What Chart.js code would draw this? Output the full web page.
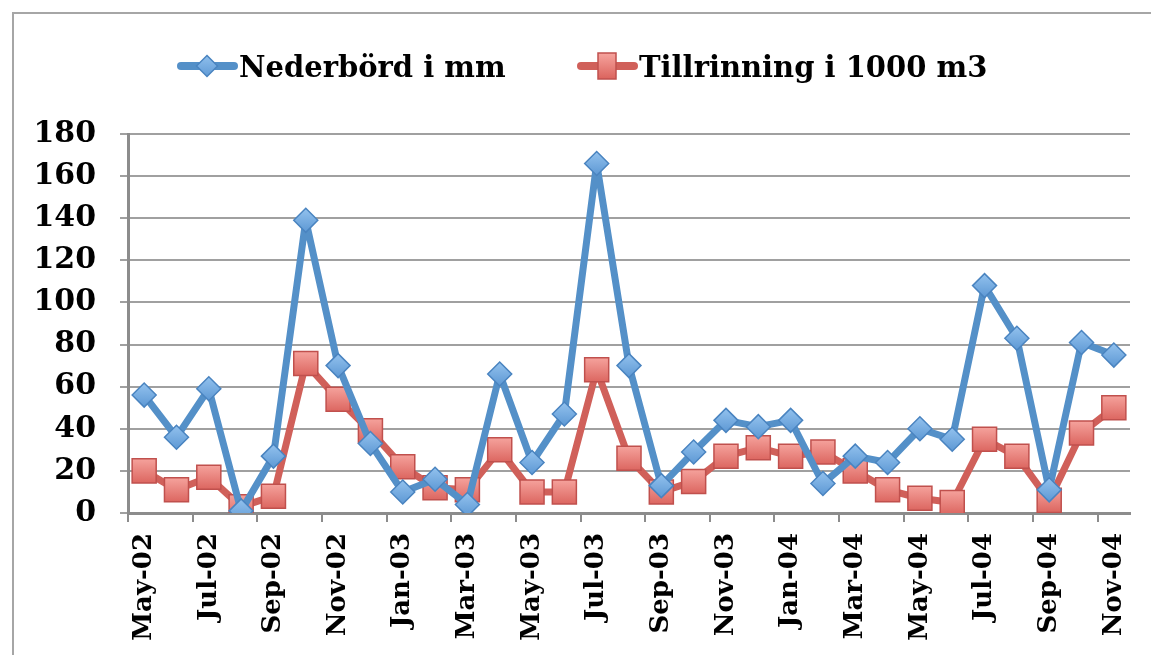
<!DOCTYPE html>
<html>
<head>
<meta charset="utf-8">
<script src="https://cdn.jsdelivr.net/npm/chart.js@4/dist/chart.umd.min.js"></script>
<style>
  html, body { margin: 0; padding: 0; background: #fff; overflow: hidden; }
  canvas { display: block; }
</style>
</head>
<body>
<canvas id="c" width="1151" height="655"></canvas>
<script>
// Monthly categories, May 2002 – Nov 2004
const months = [
  'May-02','Jun-02','Jul-02','Aug-02','Sep-02','Oct-02','Nov-02','Dec-02',
  'Jan-03','Feb-03','Mar-03','Apr-03','May-03','Jun-03','Jul-03','Aug-03','Sep-03','Oct-03','Nov-03','Dec-03',
  'Jan-04','Feb-04','Mar-04','Apr-04','May-04','Jun-04','Jul-04','Aug-04','Sep-04','Oct-04','Nov-04'
];

// Precipitation (mm)
const nederbord = [
  56, 36, 59, 1, 27, 139, 70, 33,
  10, 16, 4, 66, 24, 47, 166, 70, 13, 29, 44, 41,
  44, 14, 27, 24, 40, 35, 108, 83, 11, 81, 75
];

// Inflow (1000 m3)
const tillrinning = [
  20, 11, 17, 3, 8, 71, 54, 39,
  22, 12, 11, 30, 10, 10, 68, 26, 10, 15, 27, 31,
  27, 29, 20, 11, 7, 5, 35, 27, 6, 38, 50
];

// Y axis ticks
const yTicks = [0, 20, 40, 60, 80, 100, 120, 140, 160, 180];

const seriesNames = ['Nederbörd i mm', 'Tillrinning i 1000 m3'];

const FONT = 'DejaVu Serif';
const BLUE = '#5490c8', BLUE_TOP = '#93c2ee', BLUE_BOT = '#5d98d4', BLUE_EDGE = '#4a84c0';
const RED = '#d0605a', RED_TOP = '#f5a29c', RED_BOT = '#dc6660', RED_EDGE = '#c0504d';

// Vertical gradient fill for a marker centred at the point's pixel position
function markerFill(top, bot, half) {
  return function (context) {
    const chart = context.chart;
    const ys = chart.scales && chart.scales.y;
    if (!ys || !context.parsed || ys.bottom === undefined) return bot;
    const y = ys.getPixelForValue(context.parsed.y);
    if (!isFinite(y)) return bot;
    const g = chart.ctx.createLinearGradient(0, y - half, 0, y + half);
    g.addColorStop(0, top);
    g.addColorStop(1, bot);
    return g;
  };
}

// Outer frame of the chart (left and top edges)
const frame = {
  id: 'frame',
  beforeDraw(chart) {
    const ctx = chart.ctx;
    ctx.save();
    ctx.strokeStyle = '#a6a6a6';
    ctx.lineWidth = 2;
    ctx.beginPath();
    ctx.moveTo(13, chart.height);
    ctx.lineTo(13, 13);
    ctx.lineTo(chart.width, 13);
    ctx.stroke();
    ctx.restore();
  }
};

// Legend drawn as line + marker, like an office-style chart legend
const lineLegend = {
  id: 'lineLegend',
  afterDraw(chart) {
    const ctx = chart.ctx;
    const items = [
      { x: 178, ds: chart.data.datasets[0], top: BLUE_TOP, bot: BLUE_BOT },
      { x: 578, ds: chart.data.datasets[1], top: RED_TOP, bot: RED_BOT }
    ];
    const y = 66;
    ctx.save();
    items.forEach(it => {
      const ds = it.ds;
      ctx.strokeStyle = ds.borderColor;
      ctx.lineWidth = 8;
      ctx.lineCap = 'round';
      ctx.beginPath();
      ctx.moveTo(it.x + 3, y);
      ctx.lineTo(it.x + 56, y);
      ctx.stroke();
      const cx = it.x + 29;
      const g = ctx.createLinearGradient(0, y - 12, 0, y + 12);
      g.addColorStop(0, it.top);
      g.addColorStop(1, it.bot);
      ctx.fillStyle = g;
      ctx.strokeStyle = ds.pointBorderColor;
      ctx.lineWidth = 1.5;
      ctx.beginPath();
      if (ds.pointStyle === 'rectRot') {
        const r = 10.5;
        ctx.moveTo(cx, y - r); ctx.lineTo(cx + r, y); ctx.lineTo(cx, y + r); ctx.lineTo(cx - r, y);
        ctx.closePath();
      } else {
        ctx.rect(cx - 9, y - 13, 18, 26);
      }
      ctx.fill();
      ctx.stroke();
      ctx.fillStyle = '#000';
      ctx.font = 'bold 29px "' + FONT + '"';
      ctx.textBaseline = 'middle';
      ctx.textAlign = 'left';
      ctx.fillText(ds.label, it.x + 61, y + 3);
    });
    ctx.restore();
  }
};

new Chart(document.getElementById('c'), {
  type: 'line',
  data: {
    labels: months,
    datasets: [
      {
        label: seriesNames[0],
        data: nederbord,
        borderColor: BLUE,
        borderWidth: 7,
        borderJoinStyle: 'round',
        borderCapStyle: 'round',
        pointStyle: 'rectRot',
        pointRadius: 12,
        pointBackgroundColor: markerFill(BLUE_TOP, BLUE_BOT, 12),
        pointBorderColor: BLUE_EDGE,
        pointBorderWidth: 1.5,
        tension: 0
      },
      {
        label: seriesNames[1],
        data: tillrinning,
        borderColor: RED,
        borderWidth: 7,
        borderJoinStyle: 'round',
        borderCapStyle: 'round',
        pointStyle: 'rect',
        pointRadius: 17,
        pointBackgroundColor: markerFill(RED_TOP, RED_BOT, 12),
        pointBorderColor: RED_EDGE,
        pointBorderWidth: 1.5,
        tension: 0
      }
    ]
  },
  options: {
    responsive: false,
    animation: false,
    devicePixelRatio: 1,
    layout: { padding: { left: 0, top: 134, right: 21, bottom: 0 } },
    plugins: {
      legend: { display: false },
      tooltip: { enabled: false },
      title: { display: false }
    },
    scales: {
      x: {
        type: 'category',
        offset: true,
        afterFit(scale) {
          scale.height = 142;
          scale.paddingLeft = 0;
          scale.paddingRight = 0;
        },
        grid: {
          offset: true,
          drawOnChartArea: false,
          drawTicks: true,
          tickLength: 9,
          lineWidth: 2,
          color: c => (c.index !== undefined && c.index % 2 === 0) ? '#8c8c8c' : 'rgba(0,0,0,0)'
        },
        border: { display: true, color: '#8c8c8c', width: 3 },
        ticks: {
          autoSkip: false,
          minRotation: 90,
          maxRotation: 90,
          padding: 11,
          color: '#000',
          font: { family: FONT, size: 26, weight: 'bold' },
          callback: (v, i) => i % 2 === 0 ? months[i] : ''
        }
      },
      y: {
        min: yTicks[0],
        max: yTicks[yTicks.length - 1],
        afterFit(scale) { scale.width = 128; },
        afterBuildTicks(scale) { scale.ticks = yTicks.map(v => ({ value: v })); },
        grid: {
          color: '#a0a0a0',
          lineWidth: 2,
          tickLength: 8,
          drawTicks: true
        },
        border: { display: true, color: '#8c8c8c', width: 3 },
        ticks: {
          padding: 24,
          color: '#000',
          font: { family: FONT, size: 30, weight: 'bold' }
        }
      }
    }
  },
  plugins: [frame, lineLegend]
});
</script>
</body>
</html>
